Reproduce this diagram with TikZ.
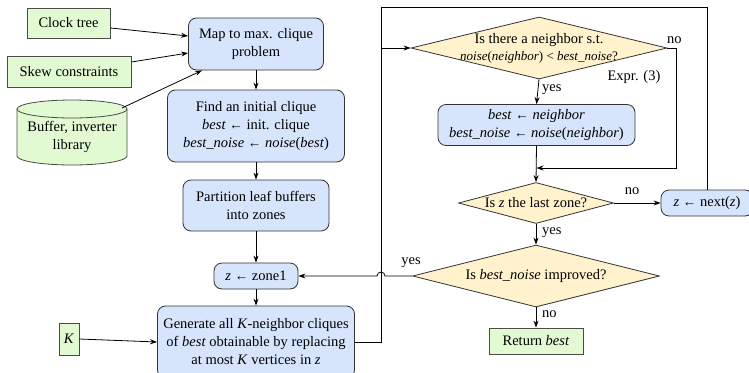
\documentclass[tikz,border=0pt]{standalone}
\usepackage{fontspec}
\setmainfont{Liberation Serif}
\usetikzlibrary{shapes.geometric,arrows.meta,calc}
\definecolor{bluef}{HTML}{D6E4FC}
\definecolor{greenf}{HTML}{E1FAD2}
\definecolor{yellowf}{HTML}{FFF2CC}
\definecolor{bord}{HTML}{333333}
\definecolor{gbord}{HTML}{4A4A4A}
\tikzset{
  every node/.style={font=\fontsize{14.5}{18}\selectfont},
  procbox/.style={draw=bord, line width=0.8pt, fill=bluef, rounded corners=8pt, align=center, inner sep=2pt},
  inbox/.style={draw=gbord, line width=0.8pt, fill=greenf, align=center, inner sep=2pt},
  decbox/.style={draw=bord, line width=0.8pt, fill=yellowf, shape=diamond, inner sep=0pt},
  lbl/.style={inner sep=0pt},
  arr/.style={line width=0.8pt, -{Stealth[length=7pt,width=5pt]}},
  ln/.style={line width=0.8pt}
}
\newcommand{\larr}{ {\fontsize{13.5}{13.5}\selectfont ←} }
\begin{document}
\begin{tikzpicture}[x=1pt,y=-1pt]
\useasboundingbox (0,0) rectangle (749,372);
% inputs
\node[inbox, minimum width=83pt, minimum height=30pt] (clock) at (68.5,23) {Clock tree};
\node[inbox, minimum width=124pt, minimum height=31pt] (skew) at (69,71.5) {Skew constraints};
\fill[greenf] (17,109) -- (17,156) arc(180:0:55 and 9) -- (127,109) arc(0:-180:55 and 9) -- cycle;
\draw[gbord, line width=0.8pt] (17,109) -- (17,156) arc(180:0:55 and 9) -- (127,109) arc(0:-180:55 and 9) -- cycle;
\draw[gbord, line width=0.8pt] (17,109) arc(180:0:55 and 9);
\node[align=center, inner sep=0pt] (lib) at (72,137) {Buffer, inverter\\library};
\coordinate (libtop) at (122,108);
\node[inbox, minimum width=20pt, minimum height=32pt, inner sep=1pt] (K) at (69,339) {\textit{K}};
% main column
\node[procbox, minimum width=135pt, minimum height=52pt] (map) at (256,44) {Map to max. clique\\problem};
\node[procbox, minimum width=177pt, minimum height=72pt] (find) at (256,126) {Find an initial clique\\\textit{best}\larr init. clique\\\textit{best\_noise}\larr\textit{noise}(\textit{best})};
\node[procbox, minimum width=146pt, minimum height=51pt] (part) at (256,205.5) {Partition leaf buffers\\into zones};
\node[procbox, minimum width=84pt, minimum height=26pt] (zone) at (256,276) {\textit{z}\larr zone1};
\node[procbox, minimum width=197pt, minimum height=72pt] (gen) at (256,342) {Generate all \textit{K}-neighbor cliques\\of \textit{best} obtainable by replacing\\at most \textit{K} vertices in \textit{z}};
% right column
\node[decbox, minimum width=256pt, minimum height=62pt] (d1) at (539,48) {};
\node[align=center, inner sep=0pt] (d1t) at (d1.center) {Is there a neighbor s.t.\\[-1pt]{\fontsize{13}{15}\selectfont\textit{noise}(\textit{neighbor}) < \textit{best\_noise}?}};
\node[procbox, minimum width=197pt, minimum height=41pt] (best) at (536.5,125) {\textit{best}\larr\textit{neighbor}\\\textit{best\_noise}\larr\textit{noise}(\textit{neighbor})};
\node[decbox, minimum width=155pt, minimum height=41pt] (d2) at (536,203) {};
\node[inner sep=0pt] (d2t) at (d2.center) {Is \textit{z} the last zone?};
\node[procbox, minimum width=92pt, minimum height=26pt] (next) at (707,203) {\textit{z}\larr next(\textit{z})};
\node[decbox, minimum width=247pt, minimum height=62pt] (d3) at (536,276) {};
\node[inner sep=0pt] (d3t) at (d3.center) {Is \textit{best\_noise} improved?};
\node[inbox, minimum width=94pt, minimum height=26pt] (ret) at (536,341) {Return \textit{best}};
% connectors: inputs
\draw[arr] ([yshift=-5pt]clock.east) -- ([yshift=8pt]map.west);
\draw[arr] ([yshift=9.5pt]skew.east) -- ([yshift=-9pt]map.west);
\draw[arr] (libtop) -- ([xshift=14pt]map.south west);
\draw[arr] (K.east) -- (gen.west);
% main column
\draw[arr] (map.south) -- (find.north);
\draw[arr] (find.south) -- (part.north);
\draw[arr] (part.south) -- (zone.north);
\draw[arr] (zone.south) -- (gen.north);
% loop
\coordinate (c1) at (381,7);
\draw[ln] (next.north) |- (c1) -- (c1 |- gen.east) -- (gen.east);
\draw[arr] (c1 |- d1.west) -- (d1.west);
% decisions
\draw[arr] (d1.south) -- (best.north);
\coordinate (c2) at (676,168);
\draw[arr] (d1.east) -| (c2) -- (c2 -| best.south);
\draw[arr] (best.south) -- (d2.north);
\draw[arr] (d2.east) -- (next.west);
\draw[arr] (d2.south) -- (d3.north);
\draw[arr] (d3.south) -- (ret.north);
\draw[arr] (d3.west) -- ($(c1 |- d3.west)+(4,0)$) arc(0:-180:4) -- (zone.east);
% labels
\node[lbl, anchor=west] at (542,90) {yes};
\node[lbl, anchor=west] at (667,40) {no};
\node[lbl] at (634,77) {Expr. (3)};
\node[lbl] at (632,191) {no};
\node[lbl, anchor=west] at (542,233) {yes};
\node[lbl] at (411,263) {yes};
\node[lbl, anchor=west] at (542,314) {no};
\end{tikzpicture}
\end{document}
